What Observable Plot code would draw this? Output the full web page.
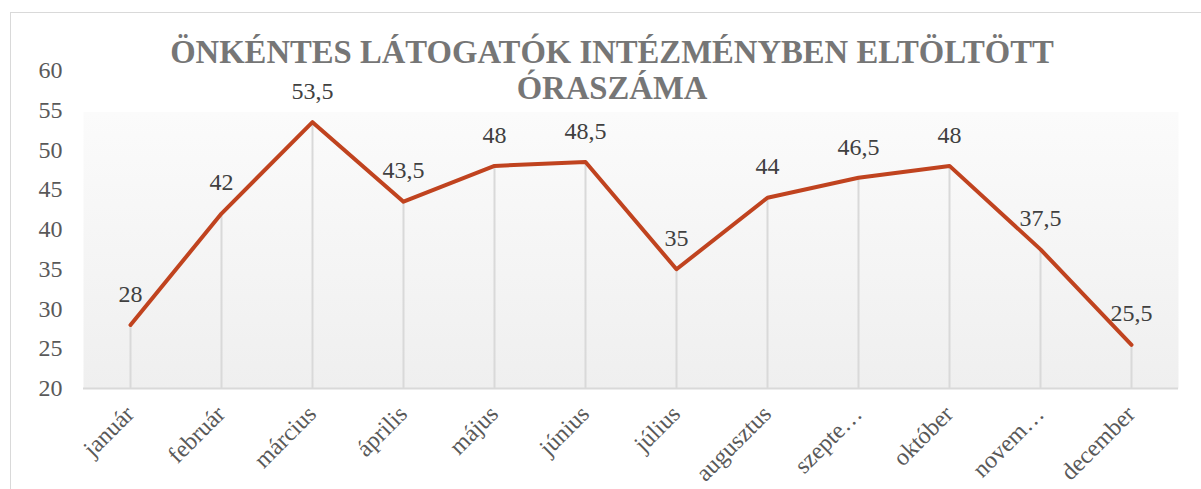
<!DOCTYPE html>
<html>
<head>
<meta charset="utf-8">
<script src="https://cdn.jsdelivr.net/npm/d3@7"></script>
<script src="https://cdn.jsdelivr.net/npm/@observablehq/plot@0.6"></script>
<style>
  html, body { margin: 0; padding: 0; background: #ffffff; overflow: hidden; }
  #wrap { position: relative; width: 1201px; height: 489px; overflow: hidden; }
  #frame { position: absolute; left: 10px; top: 12px; width: 1220px; height: 520px; border: 1.5px solid #d9d9d9; box-sizing: border-box; }
  #title { position: absolute; left: 10px; width: 1204px; top: 34px; text-align: center;
           font-family: "Liberation Serif", "Times New Roman", serif; font-weight: bold;
           font-size: 32.7px; line-height: 36px; color: #767676; z-index: 2; }
  #chart { position: absolute; left: 0; top: 0; z-index: 1; }
  #chart text { font-family: "Liberation Serif", "Times New Roman", serif; }
</style>
</head>
<body>
<svg width="0" height="0" style="position:absolute">
  <defs>
    <linearGradient id="bg" x1="0" y1="0" x2="0" y2="1">
      <stop offset="0" stop-color="#ffffff"></stop>
      <stop offset="0.132" stop-color="#ffffff"></stop>
      <stop offset="0.132" stop-color="#fbfbfb"></stop>
      <stop offset="1" stop-color="#efefef"></stop>
    </linearGradient>
  </defs>
</svg>
<div id="wrap">
  <div id="frame"></div>
  <div id="chart"></div>
  <div id="title">ÖNKÉNTES LÁTOGATÓK INTÉZMÉNYBEN ELTÖLTÖTT<br>ÓRASZÁMA</div>
</div>
<script>
const months = ["január", "február", "március", "április", "május", "június", "július", "augusztus", "szepte…", "október", "novem…", "december"];
const hours = [28, 42, 53.5, 43.5, 48, 48.5, 35, 44, 46.5, 48, 37.5, 25.5];
const yTicks = [20, 25, 30, 35, 40, 45, 50, 55, 60];
const yDomain = [20, 60];

const data = months.map((m, i) => ({month: m, value: hours[i]}));
const fmt = v => String(v).replace(".", ",");
const serif = "'Liberation Serif', 'Times New Roman', serif";

const chart = Plot.plot({
  width: 1201,
  height: 489,
  marginLeft: 83,
  marginRight: 23,
  marginTop: 70,
  marginBottom: 101,
  style: {fontFamily: serif, fontSize: "24px", background: "transparent", overflow: "visible"},
  x: {type: "point", domain: months, padding: 0.5, axis: null},
  y: {domain: yDomain, axis: null},
  marks: [
    Plot.frame({fill: "url(#bg)", stroke: "none"}),
    Plot.ruleX(data, {x: "month", y1: yDomain[0], y2: "value", stroke: "#d9d9d9", strokeWidth: 2}),
    Plot.ruleY([yDomain[0]], {stroke: "#d9d9d9", strokeWidth: 2}),
    Plot.axisY({ticks: yTicks, label: null, tickSize: 0, tickPadding: 21, fill: "#595959", fontSize: 24, fontFamily: serif, tickFormat: d => String(d)}),
    Plot.text(months, {x: d => d, frameAnchor: "bottom", rotate: -45, textAnchor: "end", dx: 5, dy: 27, fill: "#595959", fontSize: 24, fontFamily: serif}),
    Plot.line(data, {x: "month", y: "value", stroke: "#c0431f", strokeWidth: 4, strokeLinejoin: "round", strokeLinecap: "round"}),
    Plot.text(data, {x: "month", y: "value", text: d => fmt(d.value), dy: -31, fill: "#404040", fontSize: 24, fontFamily: serif})
  ]
});
document.getElementById("chart").appendChild(chart);
</script>
</body>
</html>
